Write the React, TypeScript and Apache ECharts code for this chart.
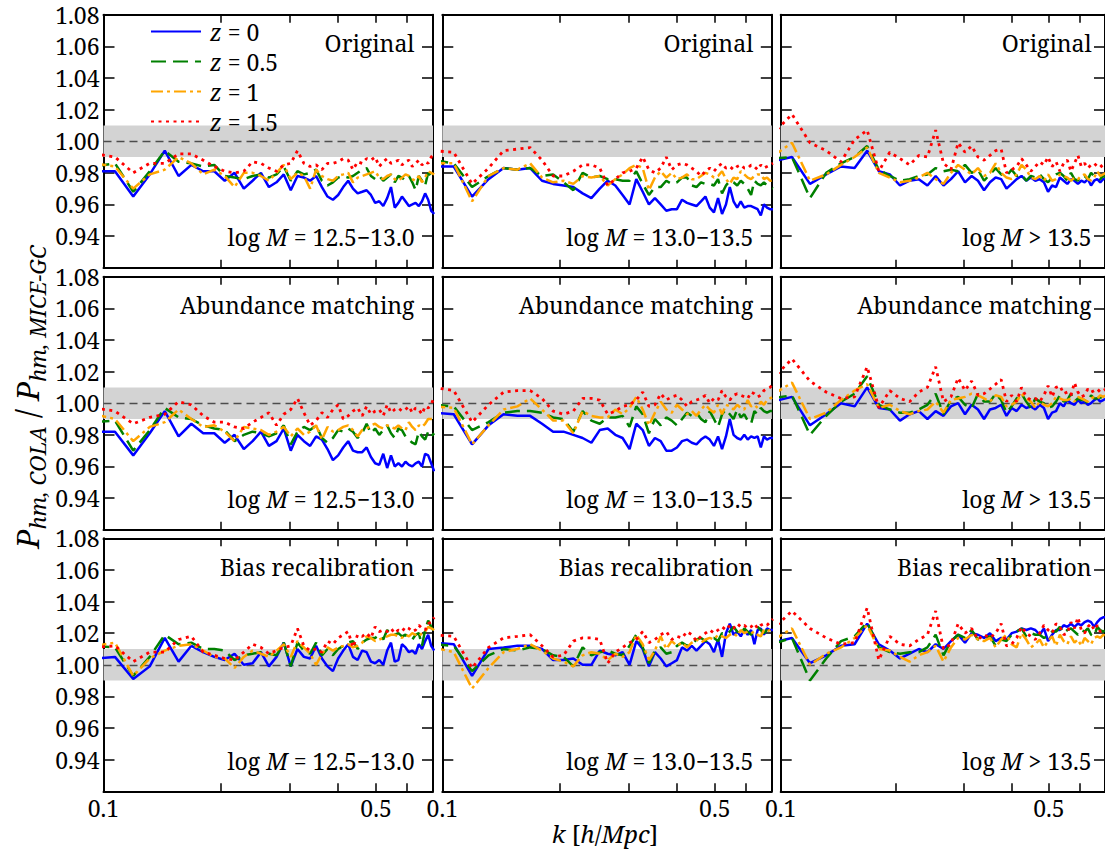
import React, { useEffect, useRef } from 'react';
import * as echarts from 'echarts';

const FONT = 'Noto Serif';

// k grid [h/Mpc]
const K = [
  0.0948, 0.107, 0.1192, 0.1314, 0.1436, 0.1558, 0.168, 0.1802, 0.1924, 0.2046,
  0.2168, 0.229, 0.2412, 0.2534, 0.2656, 0.2778, 0.29, 0.3022, 0.3144, 0.3266,
  0.3388, 0.351, 0.3632, 0.3754, 0.3876, 0.3998, 0.412, 0.4242, 0.4364, 0.4486,
  0.4608, 0.473, 0.4852, 0.4974, 0.5096, 0.5218, 0.534, 0.5462, 0.5584, 0.5706,
  0.5828, 0.595, 0.6072, 0.6194, 0.6316, 0.6438, 0.656, 0.6682, 0.6804, 0.6926,
  0.7048,
];

// ---------- Original ----------
const ORIG_M1_Z0 = [
  0.981, 0.981, 0.965, 0.979, 0.994, 0.978, 0.985, 0.981, 0.981, 0.975,
  0.980, 0.970, 0.975, 0.980, 0.971, 0.974, 0.979, 0.969, 0.978, 0.977,
  0.975, 0.978, 0.971, 0.965, 0.963, 0.966, 0.971, 0.975, 0.970, 0.967,
  0.968, 0.969, 0.966, 0.961, 0.962, 0.959, 0.964, 0.971, 0.958, 0.961,
  0.965, 0.962, 0.959, 0.960, 0.961, 0.959, 0.962, 0.967, 0.963, 0.956,
  0.954,
];
const ORIG_M1_Z05 = [
  0.984, 0.986, 0.968, 0.981, 0.994, 0.987, 0.986, 0.984, 0.985, 0.978,
  0.977, 0.976, 0.978, 0.979, 0.977, 0.979, 0.984, 0.975, 0.981, 0.979,
  0.980, 0.982, 0.975, 0.972, 0.974, 0.977, 0.978, 0.977, 0.978, 0.980,
  0.982, 0.983, 0.978, 0.976, 0.978, 0.975, 0.977, 0.979, 0.974, 0.978,
  0.977, 0.975, 0.978, 0.974, 0.969, 0.978, 0.975, 0.972, 0.980, 0.978,
  0.976,
];
const ORIG_M1_Z1 = [
  0.986, 0.984, 0.970, 0.979, 0.982, 0.990, 0.986, 0.979, 0.982, 0.978,
  0.971, 0.980, 0.980, 0.978, 0.975, 0.980, 0.985, 0.976, 0.980, 0.978,
  0.970, 0.982, 0.978, 0.976, 0.975, 0.978, 0.979, 0.980, 0.974, 0.977,
  0.978, 0.979, 0.980, 0.981, 0.977, 0.976, 0.978, 0.979, 0.976, 0.975,
  0.977, 0.979, 0.978, 0.976, 0.975, 0.978, 0.974, 0.977, 0.981, 0.980,
  0.979,
];
const ORIG_M1_Z15 = [
  0.992, 0.990, 0.980, 0.986, 0.986, 0.992, 0.992, 0.988, 0.984, 0.981,
  0.980, 0.981, 0.987, 0.986, 0.983, 0.981, 0.985, 0.986, 0.994, 0.986,
  0.984, 0.985, 0.982, 0.986, 0.986, 0.987, 0.989, 0.988, 0.982, 0.987,
  0.986, 0.989, 0.988, 0.990, 0.984, 0.987, 0.989, 0.986, 0.987, 0.988,
  0.985, 0.987, 0.988, 0.984, 0.986, 0.988, 0.985, 0.987, 0.986, 0.990,
  0.992,
];

const ORIG_M2_Z0 = [
  0.984, 0.984, 0.965, 0.976, 0.983, 0.982, 0.983, 0.975, 0.973, 0.972,
  0.971, 0.967, 0.964, 0.970, 0.975, 0.972, 0.966, 0.960, 0.976, 0.968,
  0.960, 0.964, 0.960, 0.956, 0.957, 0.957, 0.963, 0.961, 0.960, 0.959,
  0.962, 0.965, 0.958, 0.955, 0.964, 0.954, 0.960, 0.971, 0.962, 0.958,
  0.962, 0.958, 0.959, 0.959, 0.958, 0.957, 0.953, 0.960, 0.958, 0.957,
  0.957,
];
const ORIG_M2_Z05 = [
  0.988, 0.986, 0.971, 0.978, 0.983, 0.982, 0.983, 0.978, 0.979, 0.974,
  0.969, 0.980, 0.977, 0.978, 0.976, 0.976, 0.975, 0.975, 0.981, 0.973,
  0.966, 0.971, 0.971, 0.975, 0.973, 0.974, 0.977, 0.977, 0.972, 0.971,
  0.974, 0.973, 0.973, 0.972, 0.976, 0.967, 0.972, 0.975, 0.974, 0.972,
  0.975, 0.973, 0.970, 0.966, 0.975, 0.973, 0.972, 0.974, 0.972, 0.971,
  0.970,
];
const ORIG_M2_Z1 = [
  0.986, 0.986, 0.962, 0.978, 0.983, 0.982, 0.986, 0.977, 0.974, 0.975,
  0.973, 0.978, 0.977, 0.978, 0.972, 0.976, 0.979, 0.983, 0.985, 0.983,
  0.969, 0.977, 0.981, 0.977, 0.980, 0.976, 0.977, 0.979, 0.976, 0.976,
  0.978, 0.980, 0.979, 0.977, 0.978, 0.981, 0.976, 0.973, 0.977, 0.976,
  0.981, 0.979, 0.977, 0.976, 0.978, 0.979, 0.979, 0.976, 0.977, 0.975,
  0.975,
];
const ORIG_M2_Z15 = [
  0.994, 0.993, 0.973, 0.983, 0.994, 0.995, 0.996, 0.988, 0.978, 0.978,
  0.981, 0.985, 0.985, 0.983, 0.972, 0.976, 0.980, 0.981, 0.983, 0.990,
  0.982, 0.980, 0.983, 0.990, 0.982, 0.985, 0.986, 0.985, 0.983, 0.981,
  0.978, 0.981, 0.983, 0.981, 0.984, 0.986, 0.983, 0.984, 0.982, 0.984,
  0.985, 0.983, 0.983, 0.985, 0.984, 0.982, 0.985, 0.983, 0.984, 0.985,
  0.986,
];

const ORIG_M3_Z0 = [
  0.987, 0.990, 0.973, 0.979, 0.984, 0.983, 0.994, 0.981, 0.979, 0.972,
  0.975, 0.976, 0.972, 0.978, 0.972, 0.976, 0.981, 0.974, 0.978, 0.975,
  0.969, 0.974, 0.977, 0.976, 0.970, 0.973, 0.976, 0.978, 0.975, 0.977,
  0.975, 0.976, 0.974, 0.968, 0.972, 0.971, 0.977, 0.975, 0.973, 0.976,
  0.975, 0.973, 0.975, 0.974, 0.976, 0.972, 0.975, 0.976, 0.974, 0.976,
  0.977,
];
const ORIG_M3_Z05 = [
  0.989, 0.990, 0.964, 0.980, 0.986, 0.990, 0.997, 0.982, 0.978, 0.975,
  0.976, 0.978, 0.979, 0.983, 0.981, 0.982, 0.981, 0.985, 0.980, 0.982,
  0.975, 0.979, 0.983, 0.979, 0.978, 0.982, 0.978, 0.979, 0.975, 0.978,
  0.977, 0.979, 0.976, 0.974, 0.977, 0.979, 0.980, 0.978, 0.975, 0.980,
  0.976, 0.975, 0.978, 0.978, 0.976, 0.980, 0.978, 0.977, 0.976, 0.978,
  0.977,
];
const ORIG_M3_Z1 = [
  0.990, 0.999, 0.975, 0.979, 0.985, 0.990, 0.996, 0.980, 0.977, 0.974,
  0.975, 0.977, 0.980, 0.976, 0.973, 0.980, 0.985, 0.982, 0.979, 0.983,
  0.978, 0.980, 0.986, 0.980, 0.977, 0.976, 0.979, 0.985, 0.982, 0.977,
  0.976, 0.978, 0.975, 0.979, 0.975, 0.976, 0.979, 0.978, 0.977, 0.975,
  0.977, 0.976, 0.978, 0.979, 0.976, 0.975, 0.977, 0.981, 0.978, 0.979,
  0.980,
];
const ORIG_M3_Z15 = [
  1.004, 1.017, 0.999, 0.994, 0.987, 1.001, 1.007, 0.981, 0.993, 0.989,
  0.985, 0.991, 0.990, 1.007, 0.986, 0.982, 0.999, 0.993, 0.997, 0.990,
  0.988, 0.991, 0.994, 0.995, 0.980, 0.982, 0.984, 0.989, 0.985, 0.981,
  0.984, 0.987, 0.985, 0.990, 0.984, 0.987, 0.981, 0.986, 0.988, 0.981,
  0.986, 0.991, 0.984, 0.986, 0.983, 0.985, 0.986, 0.984, 0.985, 0.983,
  0.984,
];

// ---------- Abundance matching ----------
const ABUN_M1_Z0 = [
  0.982, 0.982, 0.967, 0.981, 0.995, 0.979, 0.987, 0.981, 0.981, 0.975,
  0.980, 0.971, 0.976, 0.982, 0.973, 0.976, 0.984, 0.970, 0.980, 0.976,
  0.973, 0.979, 0.977, 0.971, 0.964, 0.967, 0.972, 0.976, 0.970, 0.969,
  0.969, 0.972, 0.966, 0.962, 0.961, 0.968, 0.959, 0.967, 0.960, 0.962,
  0.960, 0.963, 0.961, 0.960, 0.962, 0.963, 0.960, 0.968, 0.967, 0.962,
  0.957,
];
const ABUN_M1_Z05 = [
  0.988, 0.989, 0.970, 0.983, 0.997, 0.991, 0.990, 0.986, 0.984, 0.983,
  0.976, 0.980, 0.982, 0.981, 0.979, 0.981, 0.986, 0.974, 0.982, 0.985,
  0.983, 0.986, 0.978, 0.975, 0.978, 0.983, 0.982, 0.984, 0.982, 0.978,
  0.981, 0.987, 0.981, 0.984, 0.980, 0.983, 0.986, 0.981, 0.978, 0.984,
  0.983, 0.979, 0.977, 0.975, 0.974, 0.982, 0.979, 0.977, 0.982, 0.979,
  0.981,
];
const ABUN_M1_Z1 = [
  0.993, 0.990, 0.976, 0.985, 0.988, 0.996, 0.990, 0.985, 0.986, 0.982,
  0.976, 0.985, 0.984, 0.983, 0.980, 0.982, 0.985, 0.979, 0.984, 0.980,
  0.982, 0.986, 0.977, 0.985, 0.982, 0.983, 0.985, 0.986, 0.983, 0.979,
  0.983, 0.984, 0.986, 0.987, 0.985, 0.984, 0.986, 0.985, 0.984, 0.986,
  0.984, 0.983, 0.988, 0.985, 0.983, 0.986, 0.985, 0.987, 0.990, 0.990,
  0.990,
];
const ABUN_M1_Z15 = [
  0.997, 0.995, 0.987, 0.991, 0.993, 1.001, 0.999, 0.992, 0.988, 0.988,
  0.985, 0.984, 0.988, 0.991, 0.994, 0.986, 0.993, 0.996, 1.003, 0.994,
  0.986, 0.989, 0.994, 0.991, 0.996, 0.999, 0.990, 0.992, 0.995, 0.997,
  0.992, 0.998, 0.993, 0.995, 0.996, 0.992, 0.999, 0.994, 0.996, 0.997,
  0.995, 0.996, 0.998, 0.994, 0.997, 0.996, 0.993, 0.998, 0.997, 0.999,
  1.004,
];

const ABUN_M2_Z0 = [
  0.994, 0.993, 0.974, 0.986, 0.993, 0.992, 0.992, 0.987, 0.982, 0.982,
  0.980, 0.978, 0.975, 0.983, 0.984, 0.980, 0.978, 0.971, 0.987, 0.983,
  0.973, 0.978, 0.976, 0.970, 0.970, 0.972, 0.976, 0.977, 0.975, 0.974,
  0.977, 0.979, 0.977, 0.973, 0.979, 0.971, 0.979, 0.990, 0.980, 0.978,
  0.977, 0.980, 0.977, 0.979, 0.978, 0.979, 0.972, 0.979, 0.977, 0.978,
  0.978,
];
const ABUN_M2_Z05 = [
  0.999, 0.998, 0.983, 0.988, 0.994, 0.995, 0.995, 0.994, 0.991, 0.990,
  0.982, 0.995, 0.989, 0.987, 0.991, 0.991, 0.992, 0.985, 0.998, 0.993,
  0.981, 0.990, 0.986, 0.991, 0.989, 0.986, 0.990, 0.994, 0.992, 0.994,
  0.990, 0.988, 0.995, 0.990, 0.985, 0.993, 0.996, 0.993, 0.990, 0.996,
  0.991, 0.993, 0.989, 0.987, 0.995, 0.993, 0.997, 0.995, 0.994, 0.995,
  0.995,
];
const ABUN_M2_Z1 = [
  0.998, 0.997, 0.974, 0.986, 0.996, 0.998, 1.003, 0.996, 0.989, 0.989,
  0.981, 0.995, 0.992, 0.991, 0.991, 0.996, 0.993, 0.997, 1.004, 0.996,
  0.986, 0.994, 1.001, 0.996, 0.994, 0.999, 0.996, 0.993, 0.995, 0.992,
  0.996, 0.999, 0.996, 0.994, 0.999, 0.993, 0.999, 0.998, 0.996, 0.999,
  0.997, 0.996, 1.002, 0.998, 0.999, 0.997, 1.001, 0.999, 1.002, 1.003,
  1.004,
];
const ABUN_M2_Z15 = [
  1.010, 1.008, 0.988, 0.999, 1.007, 1.008, 1.008, 1.003, 0.995, 0.993,
  0.995, 1.003, 1.003, 1.002, 0.993, 0.995, 0.998, 0.999, 1.002, 1.007,
  0.998, 0.999, 1.006, 1.002, 1.004, 1.005, 1.002, 0.998, 1.001, 1.002,
  1.003, 1.005, 1.000, 1.003, 1.002, 1.008, 1.004, 1.002, 1.005, 1.006,
  1.005, 1.004, 1.003, 1.007, 1.006, 1.004, 1.005, 1.008, 1.009, 1.010,
  1.012,
];

const ABUN_M3_Z0 = [
  1.001, 1.004, 0.986, 0.993, 1.000, 0.998, 1.010, 0.997, 0.996, 0.989,
  0.993, 0.995, 0.990, 0.995, 0.992, 0.998, 1.000, 0.993, 0.999, 0.996,
  0.990, 0.996, 0.997, 0.999, 0.992, 0.997, 0.995, 0.999, 0.997, 0.998,
  0.996, 0.999, 0.997, 0.990, 0.994, 0.995, 1.000, 0.998, 1.002, 1.000,
  0.999, 1.002, 1.000, 1.001, 0.999, 1.000, 1.002, 1.003, 1.001, 1.002,
  1.003,
];
const ABUN_M3_Z05 = [
  1.003, 1.005, 0.980, 0.992, 1.001, 1.006, 1.017, 0.999, 0.996, 0.994,
  0.994, 0.996, 0.999, 1.006, 0.993, 1.002, 1.004, 0.999, 0.997, 1.006,
  1.001, 1.001, 1.006, 1.002, 0.994, 0.998, 1.003, 1.006, 1.001, 0.997,
  1.003, 1.001, 1.000, 0.997, 0.998, 1.001, 1.005, 1.001, 1.002, 1.006,
  1.001, 1.003, 1.002, 1.002, 1.000, 1.005, 1.003, 1.003, 1.004, 1.002,
  1.003,
];
const ABUN_M3_Z1 = [
  1.005, 1.013, 0.990, 0.994, 1.002, 1.008, 1.012, 0.997, 0.999, 0.995,
  0.993, 0.995, 0.996, 1.001, 0.994, 1.002, 1.003, 1.004, 1.006, 1.005,
  1.003, 1.001, 1.005, 1.004, 0.998, 0.999, 1.001, 1.006, 1.003, 1.001,
  0.997, 1.001, 0.999, 0.998, 1.000, 1.004, 1.003, 1.002, 1.002, 1.003,
  1.001, 1.004, 1.003, 1.002, 1.001, 1.003, 1.004, 1.003, 1.005, 1.004,
  1.005,
];
const ABUN_M3_Z15 = [
  1.015, 1.028, 1.014, 1.007, 1.003, 1.004, 1.023, 0.997, 1.008, 1.003,
  1.001, 1.007, 1.010, 1.023, 1.001, 1.004, 1.016, 1.008, 1.014, 1.005,
  1.006, 1.009, 1.012, 1.015, 1.001, 1.005, 1.001, 1.010, 1.004, 1.002,
  1.003, 1.001, 1.005, 1.011, 1.004, 1.010, 1.011, 1.006, 1.007, 1.005,
  1.013, 1.007, 1.004, 1.005, 1.009, 1.007, 1.008, 1.009, 1.007, 1.008,
  1.009,
];

// ---------- Bias recalibration ----------
const BIAS_M1_Z0 = [
  1.004, 1.005, 0.991, 0.999, 1.017, 1.002, 1.012, 1.008, 1.005, 1.003,
  1.007, 1.000, 1.001, 1.008, 0.999, 1.005, 1.014, 0.999, 1.010, 1.005,
  1.004, 1.012, 1.004, 0.999, 0.996, 1.004, 1.009, 1.013, 1.005, 1.003,
  1.009, 1.008, 1.002, 1.001, 1.003, 1.000, 1.009, 1.014, 1.002, 1.003,
  1.013, 1.011, 1.008, 1.009, 1.007, 1.013, 1.010, 1.015, 1.019, 1.012,
  1.009,
];
const BIAS_M1_Z05 = [
  1.012, 1.011, 0.993, 1.005, 1.019, 1.013, 1.014, 1.010, 1.010, 1.009,
  1.003, 1.006, 1.007, 1.008, 1.007, 1.006, 1.014, 0.999, 1.014, 1.009,
  1.007, 1.014, 1.006, 1.010, 1.006, 1.010, 1.012, 1.014, 1.015, 1.010,
  1.014, 1.016, 1.017, 1.017, 1.019, 1.016, 1.022, 1.019, 1.019, 1.020,
  1.018, 1.019, 1.017, 1.016, 1.019, 1.020, 1.012, 1.022, 1.028, 1.024,
  1.021,
];
const BIAS_M1_Z1 = [
  1.012, 1.014, 0.993, 1.004, 1.009, 1.012, 1.013, 1.009, 1.005, 1.004,
  0.998, 1.005, 1.009, 1.007, 1.005, 1.009, 1.013, 1.005, 1.015, 1.011,
  1.007, 1.000, 1.007, 1.011, 1.009, 1.011, 1.012, 1.013, 1.011, 1.012,
  1.014, 1.018, 1.017, 1.015, 1.016, 1.017, 1.018, 1.019, 1.019, 1.018,
  1.017, 1.019, 1.018, 1.020, 1.019, 1.018, 1.020, 1.021, 1.024, 1.023,
  1.022,
];
const BIAS_M1_Z15 = [
  1.011, 1.012, 1.002, 1.008, 1.008, 1.016, 1.018, 1.008, 1.006, 1.004,
  1.003, 1.008, 1.013, 1.011, 1.007, 1.009, 1.011, 1.012, 1.023, 1.012,
  1.009, 1.010, 1.008, 1.015, 1.013, 1.017, 1.019, 1.021, 1.011, 1.019,
  1.018, 1.020, 1.017, 1.024, 1.021, 1.022, 1.021, 1.023, 1.020, 1.022,
  1.021, 1.024, 1.023, 1.021, 1.022, 1.025, 1.023, 1.022, 1.026, 1.027,
  1.030,
];

const BIAS_M2_Z0 = [
  1.014, 1.013, 0.993, 1.010, 1.011, 1.012, 1.012, 1.010, 1.003, 1.003,
  1.004, 1.000, 1.000, 1.009, 1.007, 1.006, 1.008, 1.000, 1.015, 1.010,
  0.999, 1.008, 1.004, 0.999, 1.001, 1.003, 1.011, 1.009, 1.012, 1.009,
  1.012, 1.015, 1.013, 1.008, 1.016, 1.005, 1.020, 1.026, 1.019, 1.021,
  1.018, 1.022, 1.019, 1.022, 1.013, 1.022, 1.023, 1.019, 1.023, 1.022,
  1.022,
];
const BIAS_M2_Z05 = [
  1.013, 1.012, 0.996, 1.006, 1.010, 1.009, 1.011, 1.010, 1.006, 1.005,
  0.999, 1.011, 1.006, 1.008, 1.009, 1.007, 1.006, 1.012, 1.019, 1.011,
  1.001, 1.009, 1.011, 1.007, 1.008, 1.012, 1.014, 1.012, 1.013, 1.016,
  1.017, 1.015, 1.016, 1.017, 1.015, 1.020, 1.019, 1.021, 1.024, 1.021,
  1.019, 1.023, 1.021, 1.019, 1.022, 1.024, 1.022, 1.020, 1.022, 1.021,
  1.022,
];
const BIAS_M2_Z1 = [
  1.011, 1.008, 0.985, 0.998, 1.008, 1.010, 1.013, 1.009, 1.004, 1.002,
  0.999, 1.006, 1.008, 1.007, 1.003, 1.007, 1.005, 1.008, 1.019, 1.013,
  1.003, 1.009, 1.018, 1.010, 1.015, 1.012, 1.014, 1.011, 1.014, 1.016,
  1.014, 1.016, 1.017, 1.016, 1.019, 1.018, 1.017, 1.019, 1.020, 1.018,
  1.022, 1.020, 1.021, 1.020, 1.021, 1.019, 1.018, 1.022, 1.021, 1.022,
  1.023,
];
const BIAS_M2_Z15 = [
  1.019, 1.018, 0.998, 1.011, 1.017, 1.018, 1.019, 1.012, 1.005, 1.006,
  1.015, 1.017, 1.017, 1.016, 1.001, 1.008, 1.011, 1.014, 1.016, 1.021,
  1.014, 1.016, 1.019, 1.021, 1.016, 1.018, 1.017, 1.021, 1.019, 1.015,
  1.018, 1.020, 1.022, 1.020, 1.022, 1.024, 1.022, 1.025, 1.023, 1.026,
  1.024, 1.025, 1.023, 1.024, 1.026, 1.023, 1.025, 1.026, 1.025, 1.027,
  1.029,
];

const BIAS_M3_Z0 = [
  1.014, 1.017, 1.001, 1.006, 1.012, 1.013, 1.026, 1.013, 1.009, 1.004,
  1.007, 1.010, 1.008, 1.013, 1.010, 1.015, 1.019, 1.014, 1.020, 1.019,
  1.017, 1.020, 1.015, 1.017, 1.016, 1.020, 1.021, 1.023, 1.022, 1.023,
  1.022, 1.019, 1.023, 1.015, 1.019, 1.022, 1.022, 1.025, 1.024, 1.026,
  1.024, 1.026, 1.025, 1.027, 1.028, 1.027, 1.024, 1.027, 1.029, 1.030,
  1.030,
];
const BIAS_M3_Z05 = [
  1.013, 1.017, 0.990, 1.004, 1.015, 1.018, 1.027, 1.011, 1.008, 1.007,
  1.008, 1.008, 1.011, 1.019, 1.006, 1.015, 1.019, 1.017, 1.022, 1.016,
  1.017, 1.018, 1.012, 1.016, 1.015, 1.019, 1.021, 1.023, 1.018, 1.020,
  1.019, 1.019, 1.017, 1.018, 1.021, 1.021, 1.024, 1.020, 1.022, 1.023,
  1.021, 1.019, 1.022, 1.021, 1.023, 1.019, 1.018, 1.024, 1.022, 1.021,
  1.022,
];
const BIAS_M3_Z1 = [
  1.015, 1.023, 1.000, 1.007, 1.011, 1.017, 1.025, 1.010, 1.009, 1.005,
  1.002, 1.006, 1.008, 1.012, 1.002, 1.011, 1.017, 1.016, 1.019, 1.016,
  1.015, 1.017, 1.011, 1.016, 1.019, 1.013, 1.011, 1.020, 1.016, 1.011,
  1.013, 1.016, 1.011, 1.015, 1.018, 1.012, 1.019, 1.015, 1.013, 1.018,
  1.014, 1.016, 1.012, 1.017, 1.015, 1.013, 1.017, 1.018, 1.017, 1.019,
  1.018,
];
const BIAS_M3_Z15 = [
  1.022, 1.034, 1.023, 1.017, 1.013, 1.014, 1.036, 1.003, 1.018, 1.013,
  1.012, 1.016, 1.019, 1.034, 1.010, 1.013, 1.026, 1.020, 1.023, 1.016,
  1.019, 1.017, 1.020, 1.026, 1.012, 1.013, 1.017, 1.024, 1.020, 1.018,
  1.016, 1.020, 1.025, 1.022, 1.020, 1.026, 1.024, 1.019, 1.020, 1.027,
  1.023, 1.030, 1.022, 1.020, 1.024, 1.026, 1.022, 1.025, 1.021, 1.022,
  1.022,
];

const SERIES_NAMES = ['z=0', 'z=0.5', 'z=1', 'z=1.5'];
const ROW_TITLES = ['Original', 'Abundance matching', 'Bias recalibration'];
const MASS_BINS: [string, string | null][] = [['12.5', '13.0'], ['13.0', '13.5'], ['13.5', null]];
const Y_MIN = 0.92;
const Y_MAX = 1.08;
const Y_STEP = 0.02;
const X_MIN = 0.1;
const X_MAX = 0.7;
const X_TICKS = [0.1, 0.2, 0.3, 0.4, 0.5, 0.6, 0.7];
const X_LABELS = [0.1, 0.5];
const BAND = [0.99, 1.01];
const REF = 1.0;

const PANELS = [
  [
    [ORIG_M1_Z0, ORIG_M1_Z05, ORIG_M1_Z1, ORIG_M1_Z15],
    [ORIG_M2_Z0, ORIG_M2_Z05, ORIG_M2_Z1, ORIG_M2_Z15],
    [ORIG_M3_Z0, ORIG_M3_Z05, ORIG_M3_Z1, ORIG_M3_Z15],
  ],
  [
    [ABUN_M1_Z0, ABUN_M1_Z05, ABUN_M1_Z1, ABUN_M1_Z15],
    [ABUN_M2_Z0, ABUN_M2_Z05, ABUN_M2_Z1, ABUN_M2_Z15],
    [ABUN_M3_Z0, ABUN_M3_Z05, ABUN_M3_Z1, ABUN_M3_Z15],
  ],
  [
    [BIAS_M1_Z0, BIAS_M1_Z05, BIAS_M1_Z1, BIAS_M1_Z15],
    [BIAS_M2_Z0, BIAS_M2_Z05, BIAS_M2_Z1, BIAS_M2_Z15],
    [BIAS_M3_Z0, BIAS_M3_Z05, BIAS_M3_Z1, BIAS_M3_Z15],
  ],
];

// ---------- styling / layout ----------
const COLORS = ['#0000ff', '#008000', '#ffa500', '#ff0000'];
const DASHES: any[] = ['solid', [15, 7], [12, 4, 3, 4], [3, 4.5]];
const WIDTHS = [2.5, 2.5, 2.5, 2.8];
const COL_LEFT = [103.5, 442.3, 780.7];
const ROW_TOP = [14.7, 276.7, 538.3];
const GW = 329.5;
const GH = 253;
const FS = 23;

function buildOption() {
  const grid: any[] = [];
  const xAxis: any[] = [];
  const yAxis: any[] = [];
  const series: any[] = [];
  const graphic: any[] = [];
  const axisLine = { show: true, onZero: false, lineStyle: { color: '#000', width: 2 } };

  for (let r = 0; r < 3; r++) {
    for (let c = 0; c < 3; c++) {
      const g = r * 3 + c;
      const left = COL_LEFT[c];
      const top = ROW_TOP[r];
      grid.push({ left, top, width: GW, height: GH, containLabel: false });

      const xBase = {
        gridIndex: g, type: 'log', logBase: 10, min: X_MIN, max: X_MAX,
        axisLine, splitLine: { show: false }, minorTick: { show: false }, minorSplitLine: { show: false },
        axisTick: { show: true, inside: true, length: 8, lineStyle: { color: '#000', width: 1.5 }, customValues: X_TICKS },
      };
      xAxis.push({
        ...xBase, position: 'bottom',
        axisLabel: {
          show: r === 2, customValues: X_LABELS,
          formatter: (v: number) => String(+Number(v).toPrecision(3)),
          fontFamily: FONT, fontSize: FS, color: '#000', margin: 5,
        },
      });
      xAxis.push({ ...xBase, position: 'top', axisLabel: { show: false } });

      const yBase = {
        gridIndex: g, type: 'value', min: Y_MIN, max: Y_MAX, interval: Y_STEP,
        axisLine, splitLine: { show: false },
        axisTick: { show: true, inside: true, length: 11, lineStyle: { color: '#000', width: 1.5 } },
      };
      yAxis.push({
        ...yBase, position: 'left',
        axisLabel: {
          show: c === 0,
          formatter: (v: number) => (v < Y_MIN + 1e-6 ? '' : v.toFixed(2)),
          fontFamily: FONT, fontSize: FS, color: '#000', margin: 4,
        },
      });
      yAxis.push({ ...yBase, position: 'right', axisLabel: { show: false } });

      const xi = 2 * g;
      const yi = 2 * g;
      series.push({
        type: 'line', name: 'ref', xAxisIndex: xi, yAxisIndex: yi, data: [], silent: true, symbol: 'none',
        markArea: {
          silent: true, z: 1,
          itemStyle: { color: '#d3d3d3', borderWidth: 0 },
          data: [[{ yAxis: BAND[0] }, { yAxis: BAND[1] }]],
        },
        markLine: {
          silent: true, z: 1.5, symbol: ['none', 'none'], label: { show: false },
          lineStyle: { color: '#4d4d4d', width: 1.3, type: [8, 5] },
          data: [{ yAxis: REF }],
        },
      });

      PANELS[r][c].forEach((vals, s) => {
        const n = Math.min(vals.length, K.length);
        const data: number[][] = [];
        for (let i = 0; i < n; i++) data.push([K[i], vals[i]]);
        series.push({
          type: 'line', name: SERIES_NAMES[s], xAxisIndex: xi, yAxisIndex: yi, z: 3,
          symbol: 'none', showSymbol: false, clip: true, silent: true,
          lineStyle: { color: COLORS[s], width: WIDTHS[s], type: DASHES[s], cap: 'butt' },
          itemStyle: { color: COLORS[s] },
          emphasis: { disabled: true },
          data,
        });
      });

      // panel title
      graphic.push({
        type: 'text', x: left + GW - 18.5, y: top + 28.5, z: 10,
        style: { text: ROW_TITLES[r], align: 'right', verticalAlign: 'middle', fontFamily: FONT, fontSize: FS, fill: '#000' },
      });
      // mass label
      const mb = MASS_BINS[c];
      const massText = mb[1]
        ? `{r|log }{i|M}{r| = ${mb[0]}\u2212${mb[1]}}`
        : `{r|log }{i|M}{r| > ${mb[0]}}`;
      graphic.push({
        type: 'text', x: left + GW - 18.5, y: top + 222.5, z: 10,
        style: {
          text: massText, align: 'right', verticalAlign: 'middle',
          rich: {
            r: { fontFamily: FONT, fontSize: FS, fill: '#000' },
            i: { fontFamily: FONT, fontSize: FS, fontStyle: 'italic', fill: '#000' },
          },
        },
      });
    }
  }

  // y-axis title
  graphic.push({
    type: 'text', x: 27, y: 397, rotation: Math.PI / 2, z: 10,
    style: {
      text: '{P|P}{s|hm, COLA}{n| / }{P|P}{s|hm, MICE\u2212GC}',
      align: 'center', verticalAlign: 'middle',
      rich: {
        P: { fontFamily: FONT, fontSize: 31, fontStyle: 'italic', fill: '#000', lineHeight: 38 },
        s: { fontFamily: FONT, fontSize: 22, fontStyle: 'italic', fill: '#000', verticalAlign: 'top', padding: [20, 0, 0, 0] },
        n: { fontFamily: FONT, fontSize: 31, fill: '#000', lineHeight: 38 },
      },
    },
  });
  // x-axis title
  graphic.push({
    type: 'text', x: 605, y: 833, z: 10,
    style: {
      text: '{i|k}{r| [}{i|h}{r|/}{i|Mpc}{r|]}',
      align: 'center', verticalAlign: 'middle',
      rich: {
        i: { fontFamily: FONT, fontSize: 24, fontStyle: 'italic', fill: '#000' },
        r: { fontFamily: FONT, fontSize: 24, fill: '#000' },
      },
    },
  });

  return {
    animation: false,
    backgroundColor: '#fff',
    textStyle: { fontFamily: FONT },
    grid, xAxis, yAxis, series, graphic,
    legend: {
      data: SERIES_NAMES, orient: 'vertical', left: 150, top: 20, padding: 0,
      itemWidth: 50, itemHeight: 14, itemGap: 7, selectedMode: false,
      itemStyle: { opacity: 0 },
      formatter: (name: string) => `{i|z}{r| = ${name.slice(2)}}`,
      textStyle: {
        fontFamily: FONT, fontSize: FS, color: '#000', lineHeight: 22,
        rich: {
          i: { fontFamily: FONT, fontSize: FS, fontStyle: 'italic', color: '#000', padding: [0, 0, 0, 4] },
          r: { fontFamily: FONT, fontSize: FS, color: '#000' },
        },
      },
    },
  };
}

export default function App() {
  const ref = useRef<HTMLDivElement>(null);
  useEffect(() => {
    if (!ref.current) return;
    const chart = echarts.init(ref.current, null, { renderer: 'svg' });
    chart.setOption(buildOption() as any);
    return () => chart.dispose();
  }, []);
  return (
    <div
      ref={ref}
      style={{ position: 'absolute', left: 0, top: 0, width: 1105, height: 852, background: '#fff' }}
    />
  );
}
